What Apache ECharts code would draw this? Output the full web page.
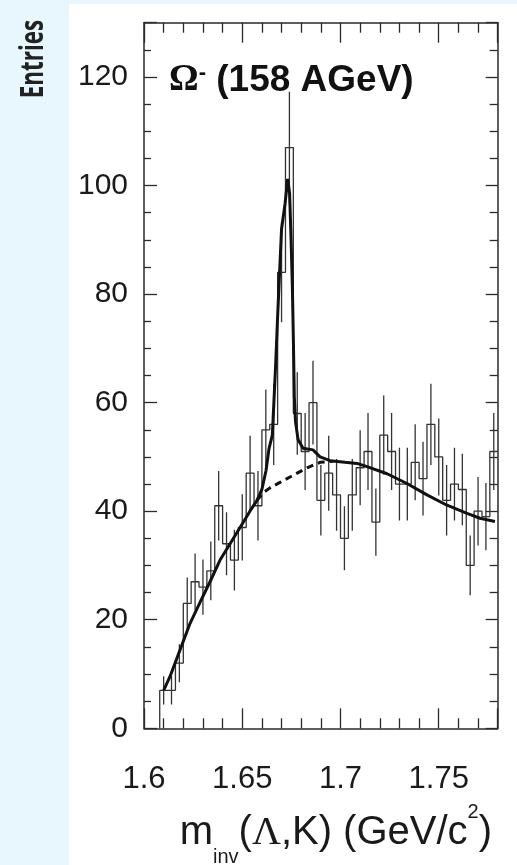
<!DOCTYPE html>
<html><head><meta charset="utf-8">
<script src="https://cdn.jsdelivr.net/npm/echarts@6/dist/echarts.min.js"></script>
<style>html,body{margin:0;padding:0;background:#e8f6fd;}#c{width:517px;height:865px;}</style>
</head><body><div id="c"></div>
<script>
// bin centres (GeV/c^2), bin width 0.004
const binCenters = [1.610,1.614,1.618,1.622,1.626,1.630,1.634,1.638,1.642,1.646,1.650,1.654,1.658,1.662,1.666,1.670,1.674,1.678,1.682,1.686,1.690,1.694,1.698,1.702,1.706,1.710,1.714,1.718,1.722,1.726,1.730,1.734,1.738,1.742,1.746,1.750,1.754,1.758,1.762,1.766,1.770,1.774,1.778];
const binWidth = 0.004;
const counts = [7,7,12,23,27,26,29,41,34,31,37,47,41,55,56,84,107,58,51,60,42,47,43,35,43,48,51,38,54,51,45,45,49,46,56,50,42,45,44,30,40,39,51];
const errors = [2.6,2.6,3.5,4.8,5.2,5.1,5.4,6.4,5.8,5.6,6.1,6.9,6.4,7.4,7.5,9.2,10.3,7.6,7.1,7.7,6.5,6.9,6.6,5.9,6.6,6.9,7.1,6.2,7.3,7.1,6.7,6.7,7.0,6.8,7.5,7.1,6.5,6.7,6.6,5.5,6.3,6.2,7.1];
// total fit (signal + background)
const fitX = [1.6100,1.6132,1.6183,1.6234,1.6285,1.6336,1.6387,1.6438,1.6489,1.6539,1.6575,1.6600,1.6621,1.6636,1.6653,1.6661,1.6670,1.6679,1.6690,1.6700,1.6718,1.6731,1.6741,1.6748,1.6755,1.6760,1.6765,1.6771,1.6784,1.6809,1.6860,1.6896,1.6947,1.7023,1.7084,1.7135,1.7237,1.7338,1.7440,1.7542,1.7644,1.7710,1.7786];
const fitY = [7.0,9.5,14.4,19.3,23.2,27.0,31.0,34.0,37.0,40.0,42.0,44.0,47.5,51.5,54.0,60.0,67.0,75.0,84.0,92.0,96.7,101.2,98.6,90.6,81.4,72.0,61.0,56.5,53.2,51.6,51.3,50.0,49.3,49.0,48.8,48.2,46.9,45.1,43.0,41.1,39.6,38.7,38.1];
// background under the peak (dashed)
const bkgX = [1.6575,1.6610,1.6641,1.6692,1.6758,1.6830,1.6896,1.6962];
const bkgY = [42.0,43.5,44.3,45.3,46.6,48.0,49.0,49.2];
const xTicks = [1.6,1.65,1.7,1.75];
const yTicks = [0,20,40,60,80,100,120];

const histLine = [];
binCenters.forEach((c,i)=>{
  const l = c - binWidth/2, r = c + binWidth/2;
  if (i===0) histLine.push([l,0]);
  histLine.push([l,counts[i]]);
  histLine.push([r,counts[i]]);
});
const errData = binCenters.map((c,i)=>[c, counts[i]-errors[i], counts[i]+errors[i]]);
const fitData = fitX.map((x,i)=>[x,fitY[i]]);
const bkgData = bkgX.map((x,i)=>[x,bkgY[i]]);

const ink = '#2a2a2a';
const sans = '"Liberation Sans", Arial, sans-serif';
const serif = '"Liberation Serif", "DejaVu Serif", serif';
const lineSt = {color: ink, width: 1.5};
function xAx(pos, labels){
  return {type:'value', position:pos, min:1.6, max:1.78, interval:0.05,
    axisLine:{show:true, onZero:false, lineStyle:lineSt},
    axisTick:{show:true, inside:true, length:20, lineStyle:{color:ink,width:1.3}},
    minorTick:{show:true, splitNumber:5, length:10, lineStyle:{color:ink,width:1.3}},
    splitLine:{show:false}, minorSplitLine:{show:false},
    axisLabel:{show:labels, showMaxLabel:false, margin:36, fontSize:31, fontFamily:sans, color:'#1a1a1a',
      formatter:v=>{const r=Math.round(v*100)/100; return xTicks.indexOf(r)>=0?String(r):'';}}
  };
}
function yAx(pos, labels, major, minor){
  return {type:'value', position:pos, min:0, max:130, interval:20,
    axisLine:{show:true, onZero:false, lineStyle:lineSt},
    axisTick:{show:true, inside:true, length:major, lineStyle:{color:ink,width:1.3}},
    minorTick:{show:true, splitNumber:4, length:minor, lineStyle:{color:ink,width:1.3}},
    splitLine:{show:false}, minorSplitLine:{show:false},
    axisLabel:{show:labels, showMaxLabel:false, margin:16, fontSize:30, fontFamily:sans, color:'#1a1a1a',
      formatter:v=>yTicks.indexOf(v)>=0?String(v):''}
  };
}
const xBottom = xAx('bottom', true);
xBottom.name = '{a|m}{s|inv}{a|(}{g|Λ}{a|,K) (GeV/c}{p|2}{a|)}';
xBottom.nameLocation = 'middle';
xBottom.nameGap = 74;
xBottom.nameTextStyle = {padding:[0,0,0,30], rich:{
  a:{fontSize:40, fontFamily:sans, color:'#1a1a1a', lineHeight:44, padding:[11,0,0,0], verticalAlign:'top'},
  g:{fontSize:40, fontFamily:serif, color:'#1a1a1a', lineHeight:44, padding:[11,0,0,0], verticalAlign:'top'},
  s:{fontSize:20, fontFamily:sans, color:'#1a1a1a', lineHeight:20, padding:[45,0,0,0], verticalAlign:'top'},
  p:{fontSize:20, fontFamily:sans, color:'#1a1a1a', lineHeight:20, padding:[0,0,0,0], verticalAlign:'top'}
}};

const chart = echarts.init(document.getElementById('c'), null, {renderer:'canvas'});
chart.setOption({
  backgroundColor:'#e8f6fd',
  animation:false,
  grid:{left:144, right:19.3, top:22.7, bottom:136.7, show:false, containLabel:false, outerBoundsMode:'none'},
  title:{text:'{o|Ω}{m|-}{b| (158 AGeV)}', left:164, top:57,
    textStyle:{rich:{
      o:{fontSize:37, fontFamily:serif, color:'#111', lineHeight:42, verticalAlign:'top'},
      m:{fontSize:22, fontWeight:'bold', fontFamily:sans, color:'#111', lineHeight:20, verticalAlign:'top'},
      b:{fontSize:37, fontWeight:'bold', fontFamily:sans, color:'#111', lineHeight:42, verticalAlign:'top'}
    }}},
  graphic:[
    {type:'rect', shape:{x:69, y:4, width:448, height:861}, style:{fill:'#ffffff'}, z:-100, silent:true},
    {type:'text', x:34, y:59, rotation:Math.PI/2, scaleX:0.7, z:10,
      style:{text:'Entries', font:'bold 32px "Open Sans", sans-serif', fill:'#222', align:'center', verticalAlign:'middle'}}
  ],
  xAxis:[xBottom, xAx('top', false)],
  yAxis:[yAx('left', true, 13, 7), yAx('right', false, 12, 8)],
  series:[
    {type:'line', data:histLine, xAxisIndex:0, yAxisIndex:0, showSymbol:false, symbol:'none',
      lineStyle:{color:'#333', width:1.3}, z:2, clip:true},
    {type:'custom', data:errData, xAxisIndex:0, yAxisIndex:0, z:3, clip:true,
      encode:{x:0, y:[1,2]},
      renderItem:(params, api)=>{
        const p1 = api.coord([api.value(0), api.value(1)]);
        const p2 = api.coord([api.value(0), api.value(2)]);
        return {type:'line', shape:{x1:p1[0], y1:p1[1], x2:p2[0], y2:p2[1]}, style:{stroke:'#333', lineWidth:1.3}};
      }},
    {type:'line', data:bkgData, showSymbol:false, symbol:'none', z:4,
      lineStyle:{color:'#111', width:3, type:[7,5]}},
    {type:'line', data:fitData, showSymbol:false, symbol:'none', z:5,
      lineStyle:{color:'#111', width:3}}
  ]
});
</script></body></html>
